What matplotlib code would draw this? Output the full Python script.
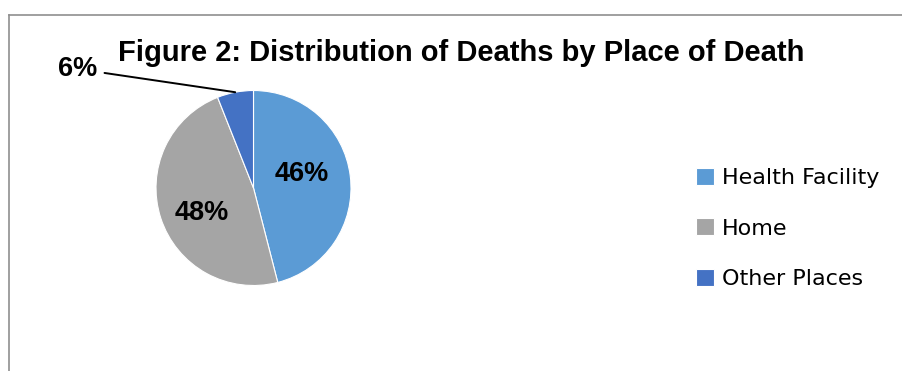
import numpy as np
import matplotlib
matplotlib.use("Agg")
import matplotlib.pyplot as plt
from matplotlib.lines import Line2D

# data
places = ["Health Facility", "Home", "Other Places"]
shares = [46, 48, 6]
colors = ["#5B9BD5", "#A5A5A5", "#4472C4"]

W, H = 903, 371
fig = plt.figure(figsize=(W / 100, H / 100), dpi=100)

# outer chart border (top and left only visible)
fig.add_artist(Line2D([9.5 / W, 9.5 / W], [0, 1 - 14.5 / H], color="#8f8f8f", lw=1.2))
fig.add_artist(Line2D([9.5 / W, 1], [1 - 14.5 / H, 1 - 14.5 / H], color="#8f8f8f", lw=1.2))

# pie placed so its centre is near (253, 188) px with radius ~97 px
cx, cy, r = 253.5, 188, 97.5
ax = fig.add_axes([(cx - r) / W, (H - cy - r) / H, 2 * r / W, 2 * r / H])
wedges, texts, autotexts = ax.pie(
    shares, colors=colors, startangle=90, counterclock=False,
    autopct="%1.0f%%", pctdistance=0.56,
    wedgeprops=dict(edgecolor="white", linewidth=0.8),
    textprops=dict(fontsize=19.5, fontweight="bold", color="black",
                   family="Liberation Sans"),
)
ax.set_xlim(-1, 1)
ax.set_ylim(-1, 1)
ax.set_aspect("equal")

# nudge inside labels to where Excel put them
autotexts[0].set_position((0.50, 0.14))
autotexts[1].set_position((-0.53, -0.26))

# small slice gets an outside label with a leader line
w = wedges[2]
mid = np.deg2rad((w.theta1 + w.theta2) / 2)
autotexts[2].set_visible(False)
ax.annotate("6%", xy=(np.cos(mid), np.sin(mid)), xytext=(-1.80, 1.22),
            ha="center", va="center", fontsize=19.5, fontweight="bold",
            family="Liberation Sans", annotation_clip=False,
            arrowprops=dict(arrowstyle="-", color="black", lw=1.4,
                            shrinkA=3, shrinkB=0))

fig.text(461 / W, 1 - 53 / H, "Figure 2: Distribution of Deaths by Place of Death",
         ha="center", va="center", fontsize=21, fontweight="bold",
         family="Liberation Sans")

fig.legend(wedges, places, loc="center left",
           bbox_to_anchor=(696 / W, 1 - 228.5 / H), frameon=False,
           prop=dict(family="DejaVu Sans", size=16),
           handlelength=0.8, handleheight=0.8, handletextpad=0.35,
           labelspacing=1.35, borderpad=0, borderaxespad=0)

fig.savefig("out.png", dpi=100)
